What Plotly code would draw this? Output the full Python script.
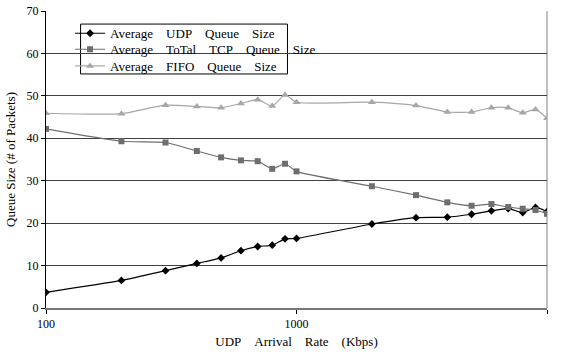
import plotly.graph_objects as go

rate_kbps = [100, 200, 300, 400, 500, 600, 700, 800, 900, 1000,
             2000, 3000, 4000, 5000, 6000, 7000, 8000, 9000, 10000]
udp_queue = [3.7, 6.5, 8.8, 10.5, 11.8, 13.5, 14.5, 14.8, 16.3, 16.4,
             19.8, 21.3, 21.4, 22.1, 22.9, 23.4, 22.5, 23.7, 22.7]
tcp_queue = [42.2, 39.3, 39.0, 37.0, 35.5, 34.8, 34.6, 32.8, 34.0, 32.2,
             28.7, 26.6, 24.9, 24.1, 24.5, 23.8, 23.4, 23.1, 22.2]
fifo_queue = [45.9, 45.8, 47.8, 47.5, 47.2, 48.2, 49.1, 47.6, 50.2, 48.5,
              48.5, 47.7, 46.2, 46.2, 47.2, 47.2, 46.0, 46.8, 44.7]

x_ticks = [100, 1000, 10000]
x_tick_text = ["100", "1000", "10000"]
y_ticks = [0, 10, 20, 30, 40, 50, 60, 70]

sp = "\u00a0" * 4
names = [
    sp.join(["Average", "UDP", "Queue", "Size"]),
    sp.join(["Average", "ToTal", "TCP", "Queue", "Size"]),
    sp.join(["Average", "FIFO", "Queue", "Size"]),
]

FONT = "Liberation Serif, Times New Roman, serif"

fig = go.Figure()
fig.add_trace(go.Scatter(
    x=rate_kbps, y=udp_queue, name=names[0], mode="lines+markers",
    legend="legend",
    line=dict(color="#000000", width=1.2, shape="spline", smoothing=0.6),
    marker=dict(symbol="diamond", size=6, color="#000000")))
fig.add_trace(go.Scatter(
    x=rate_kbps, y=tcp_queue, name=names[1], mode="lines+markers",
    legend="legend2",
    line=dict(color="#6e6e6e", width=1.2, shape="spline", smoothing=0.6),
    marker=dict(symbol="square", size=6, color="#6e6e6e")))
fig.add_trace(go.Scatter(
    x=rate_kbps, y=fifo_queue, name=names[2], mode="lines+markers",
    legend="legend3",
    line=dict(color="#a6a6a6", width=1.2, shape="spline", smoothing=0.6),
    marker=dict(symbol="triangle-up", size=7, color="#a6a6a6")))

def leg(yc):
    return dict(
        x=0.048, y=yc, xanchor="left", yanchor="middle",
        bgcolor="rgba(0,0,0,0)", borderwidth=0,
        font=dict(family=FONT, size=13, color="#000000"),
        itemwidth=30,
    )

fig.update_layout(
    width=561, height=358,
    margin=dict(l=46, r=14, t=11, b=50, autoexpand=False),
    paper_bgcolor="white", plot_bgcolor="white",
    font=dict(family=FONT, size=12, color="#000000"),
    showlegend=True,
    legend=leg(0.925),
    legend2=leg(0.871),
    legend3=leg(0.815),
    xaxis=dict(
        type="log", range=[2, 4], automargin=False,
        tickvals=x_ticks, ticktext=x_tick_text,
        ticks="outside", ticklen=4, tickcolor="#000000",
        showgrid=False, zeroline=False,
        showline=True, linecolor="#777777", linewidth=2,
        title=dict(text=sp.join(["UDP", "Arrival", "Rate", "(Kbps)"]),
                   font=dict(family=FONT, size=13), standoff=6),
        tickfont=dict(family=FONT, size=12),
    ),
    yaxis=dict(
        range=[0, 70], tickvals=y_ticks, automargin=False,
        ticks="outside", ticklen=4, tickcolor="#000000",
        showgrid=True, gridcolor="#404040", gridwidth=1,
        zeroline=False,
        showline=True, linecolor="#000000", linewidth=1,
        title=dict(text="Queue Size (# of Packets)",
                   font=dict(family=FONT, size=13), standoff=8),
        tickfont=dict(family=FONT, size=12),
    ),
    shapes=[
        dict(type="rect", xref="paper", yref="paper",
             x0=0.069, x1=0.482, y0=0.788, y1=0.956,
             fillcolor="white", line=dict(color="#000000", width=1),
             layer="between"),
        dict(type="line", xref="paper", yref="paper",
             x0=1, x1=1, y0=0, y1=1,
             line=dict(color="#c0c0c0", width=2), layer="between"),
    ],
)

fig.write_html("out.html",
               config={"displayModeBar": False},
               post_script="document.body.style.margin='0';document.body.style.padding='0';")
